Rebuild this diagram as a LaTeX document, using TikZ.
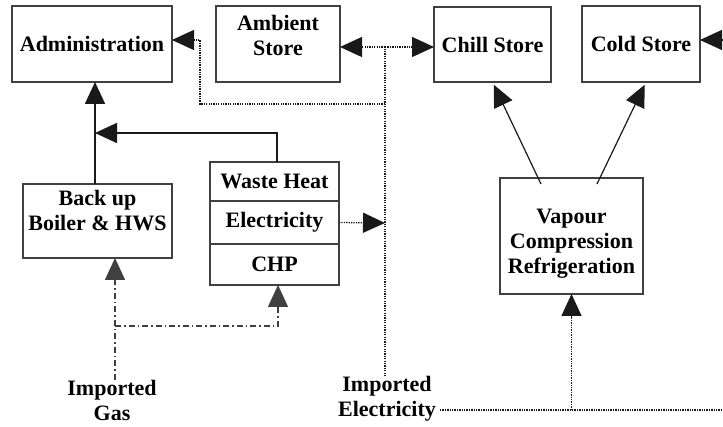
\documentclass[tikz,border=0pt]{standalone}
\usepackage{fontspec}
\setmainfont{Liberation Serif}
\usetikzlibrary{arrows.meta,calc}
\begin{document}
\begin{tikzpicture}[x=1pt,y=-1pt,
 box/.style={draw=black!75, line width=1.4pt, inner sep=0pt, outer sep=0pt},
 txt/.style={font=\fontsize{22}{25}\selectfont\bfseries, align=center, inner sep=0pt},
 tip/.style={-{Triangle[length=22pt,width=20pt]}},
 solidc/.style={line width=1.7pt, draw=black!90},
 thinc/.style={line width=1.2pt, draw=black!90},
 dotc/.style={line width=1.3pt, dash pattern=on 1.3pt off 1.1pt, draw=black!90},
 gasc/.style={line width=1.3pt, dash pattern=on 6pt off 3pt on 1.5pt off 3pt, draw=black!75},
]
\useasboundingbox[fill=white] (0,0) rectangle (723,427);

% boxes
\node[box, txt, minimum width=160pt, minimum height=76pt] (adm) at (92,44) {Administration};
\node[box, minimum width=124pt, minimum height=76pt] (amb) at (278,44) {};
\node[txt] (ambt) at (278,35) {Ambient\\Store};
\node[box, txt, minimum width=117pt, minimum height=75pt] (chill) at (492.5,44.5) {Chill Store};
\node[box, txt, minimum width=118pt, minimum height=76pt] (cold) at (641,44) {Cold Store};
\node[box, minimum width=149pt, minimum height=74pt] (bk) at (97.5,221) {};
\node[txt] (bkt) at (97.5,211) {Back up\\Boiler \& HWS};
\node[box, txt, minimum width=129pt, minimum height=39pt] (wh) at (274.5,181.5) {Waste Heat};
\node[box, txt, minimum width=129pt, minimum height=43pt] (el) at (274.5,222.5) {Electricity};
\node[box, txt, minimum width=129pt, minimum height=41pt] (chp) at (274.5,264.5) {CHP};
\node[box, minimum width=143pt, minimum height=116pt] (vap) at (571.5,236) {};
\node[txt] (vapt) at (571.5,244) {Vapour\\Compression\\Refrigeration};
\node[txt] (ig) at (112,400) {Imported\\Gas};
\node[txt] (ie) at (387,399) {Imported\\Electricity};

% junction coordinates
\coordinate (wj) at (95,133);
\coordinate (ej) at (385,223);
\coordinate (et) at (385,47);
\coordinate (ab) at (385,104);
\coordinate (ac) at (200,40);
\coordinate (ie2) at (440,410);
\coordinate (re) at (723,410);
\coordinate (rc) at (723,40);
\coordinate (gj) at (115,326);

% solid heat connectors
\draw[solidc, tip] ($(bk.north)+(-2.5,0)$) -- ($(adm.south)+(3,0)$);
\draw[solidc, tip] ($(wh.north)+(2.5,0)$) |- (wj);

% electricity (dotted)
\draw[dotc, tip] (el.east) -- (ej);
\draw[dotc] (ie.north -| ej) -- (et);
\draw[dotc, tip] (et) -- (amb.east |- et);
\draw[dotc, tip] (et) -- (chill.west |- et);
\draw[dotc, tip] (ab) -| (ac) -- (adm.east |- ac);
\draw[dotc] (ie2) -- (re);
\draw[dotc, tip] (re -| vap.south) -- (vap.south);
\draw[dotc, tip] (rc) -- (cold.east |- rc);

% refrigeration
\draw[thinc, tip, shorten >=3pt] ($(vap.north west)+(41,6)$) -- (chill.south);
\draw[thinc, tip, shorten >=3pt] ($(vap.north west)+(97,6)$) -- ($(cold.south)+(5,0)$);

% gas (dash-dot)
\draw[gasc, tip] (ig.north -| gj) -- (bk.south -| gj);
\draw[gasc, tip] (gj) -| ($(chp.south)+(3.5,0)$);
\end{tikzpicture}
\end{document}
